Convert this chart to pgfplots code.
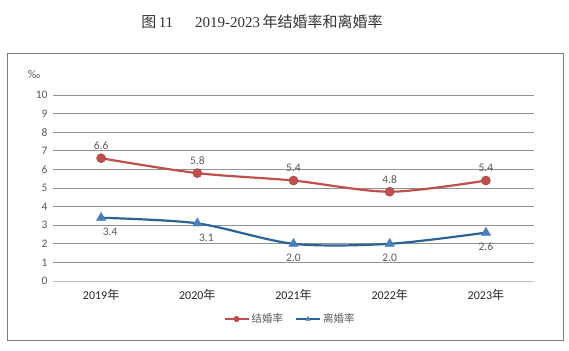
\documentclass[border=0pt]{standalone}
\usepackage{pgfplots}
\pgfplotsset{compat=1.18}
\usepackage{fontspec}
\setmainfont{Carlito}
\newfontfamily\cjk{Noto Sans CJK SC}
\newfontfamily\serif{Liberation Serif}
\definecolor{redl}{HTML}{C0504D}
\definecolor{bluel}{HTML}{2A6496}
\definecolor{bluem}{HTML}{4A7EBB}
\definecolor{txt}{HTML}{595959}
\definecolor{grd}{HTML}{7F7F7F}
\begin{document}
\begin{tikzpicture}[x=1bp,y=1bp]
\path (0,0) rectangle (569,350);
\draw[grd, line width=0.9bp] (7,10) rectangle (563,297);
\node[font={\fontsize{15bp}{16bp}\selectfont}, text=black!80] at (262,328)
  {\cjk 图\,\serif 11\hspace{22bp}2019-2023\,\cjk 年结婚率和离婚率};
\begin{axis}[
  at={(53bp,69bp)}, anchor=south west,
  scale only axis, width=481bp, height=186bp,
  xmin=-0.5, xmax=4.5, ymin=0, ymax=10,
  xtick={0,1,2,3,4},
  xticklabels={2019{\cjk 年},2020{\cjk 年},2021{\cjk 年},2022{\cjk 年},2023{\cjk 年}},
  ytick={0,1,...,10},
  axis line style={draw=none},
  major tick length=0pt,
  ymajorgrids,
  grid style={grd!85, line width=0.8bp},
  tick label style={font={\fontsize{11.5bp}{13bp}\selectfont}, text=txt},
  /pgf/number format/assume math mode=true,
  xticklabel style={yshift=-5bp, text=black!85, font={\fontsize{12bp}{13bp}\selectfont}},
  yticklabel style={xshift=-2bp},
  clip=false,
  legend style={at={(237bp,-38bp)}, anchor=center, draw=none, fill=none,
     font={\cjk\fontsize{10.5bp}{12bp}\selectfont}, text=txt, legend columns=2,
     /tikz/every even column/.append style={column sep=10bp}},
  legend image code/.code={
    \draw[#1, line width=2bp] (0bp,0bp) -- (24bp,0bp);
    \path[#1, mark size=2.7bp] plot coordinates {(12bp,0bp)};
  },
  nodes near coords={\pgfmathprintnumber[fixed,fixed zerofill,precision=1]{\pgfplotspointmeta}},
  every node near coord/.append style={font={\fontsize{11.5bp}{13bp}\selectfont}, text=txt},
]
\draw[gray!50, line width=1bp] (axis cs:-0.5,0) -- (axis cs:4.5,0);
\addplot[redl, line width=2.2bp, smooth, tension=0.5, mark=*, mark size=4.5bp,
  mark options={fill=redl, draw=redl!80!black, line width=0.5bp},
  nodes near coords align={above}, every node near coord/.append style={yshift=5bp}]
  coordinates {(0,6.6) (1,5.8) (2,5.4) (3,4.8) (4,5.4)};
\addlegendentry{结婚率}
\addplot[bluel, line width=2.2bp, smooth, tension=0.5, mark=triangle*, mark size=5.5bp,
  mark options={fill=bluem, draw=bluem, line width=0.3bp},
  visualization depends on={x \as \rawx},
  nodes near coords align={below}, every node near coord/.append style={yshift=-7bp, xshift={(\rawx<1.5)*9bp}}]
  coordinates {(0,3.4) (1,3.1) (2,2.0) (3,2.0) (4,2.6)};
\addlegendentry{离婚率}
\node[font={\fontsize{12bp}{13bp}\selectfont}, text=txt] at (axis cs:-0.5,10) [xshift=-19bp, yshift=21bp] {‰};
\end{axis}
\end{tikzpicture}
\end{document}
